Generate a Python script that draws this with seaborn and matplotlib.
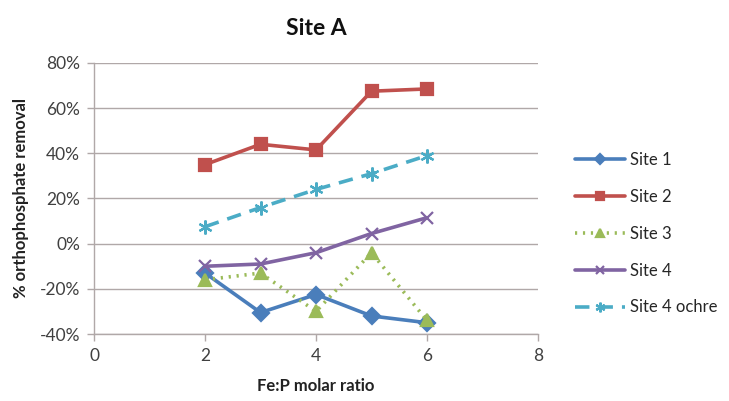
import matplotlib
matplotlib.use("Agg")
import matplotlib.pyplot as plt
import seaborn as sns
import pandas as pd
from matplotlib.ticker import FuncFormatter

ratio = [2, 3, 4, 5, 6]
site1 = [-13, -30.5, -22.5, -32, -35]
site2 = [35, 44, 41.5, 67.5, 68.5]
site3 = [-16, -13, -30, -4, -34]
site4 = [-10, -9, -4, 4.5, 11.5]
site4_ochre = [7.5, 16, 24, 31, 39]
series_names = ["Site 1", "Site 2", "Site 3", "Site 4", "Site 4 ochre"]
series_values = [site1, site2, site3, site4, site4_ochre]

sns.set_theme(style="white")
plt.rcParams['font.family'] = ['Lato', 'DejaVu Sans']

colors = {"Site 1": "#4A7EBB", "Site 2": "#C0504D", "Site 3": "#9BBB59",
          "Site 4": "#8064A2", "Site 4 ochre": "#4BACC6"}
markers = {"Site 1": "D", "Site 2": "s", "Site 3": "^", "Site 4": "x",
           "Site 4 ochre": (6, 2, 0)}
dashes = {"Site 1": "-", "Site 2": "-", "Site 3": (0, (0.6, 1.6)), "Site 4": "-",
          "Site 4 ochre": (0, (4, 2.5))}
msizes = {"Site 1": 8, "Site 2": 9, "Site 3": 9, "Site 4": 9, "Site 4 ochre": 10}

fig = plt.figure(figsize=(7.29, 4.01), dpi=100)
ax = fig.add_axes([0.129, 0.167, 0.609, 0.676])

for name, vals in zip(series_names, series_values):
    d = pd.DataFrame({"ratio": ratio, "removal": vals})
    sns.lineplot(data=d, x="ratio", y="removal", color=colors[name],
                 marker=markers[name], linestyle=dashes[name], linewidth=2.6,
                 markersize=msizes[name], markeredgewidth=1.6,
                 markeredgecolor=colors[name], ax=ax, label=name)

ax.set_xlim(0, 8)
ax.set_ylim(-40, 80)
ax.set_xticks([0, 2, 4, 6, 8])
ax.set_yticks(range(-40, 81, 20))
ax.yaxis.set_major_formatter(FuncFormatter(lambda v, p: f"{int(v)}%"))
ax.grid(axis="y", color="#B0A8A8", linewidth=1.0)
ax.set_axisbelow(True)
for s in ["top", "right"]:
    ax.spines[s].set_visible(False)
for s in ["left", "bottom"]:
    ax.spines[s].set_color("#B0A8A8")
    ax.spines[s].set_linewidth(1.0)
ax.tick_params(axis="both", which="major", length=5, width=1.0, color="#B0A8A8",
               labelsize=12.5, labelcolor="#404040", direction="out",
               left=True, bottom=True, pad=5)
ax.set_xlabel("Fe:P molar ratio", fontsize=12, fontweight="bold", color="#222222",
              labelpad=10)
ax.set_ylabel("% orthophosphate removal", fontsize=12, fontweight="bold",
              color="#222222", labelpad=8)
ax.set_title("Site A", fontsize=16.5, fontweight="bold", color="#111111", pad=20)

handles, labels = ax.get_legend_handles_labels()
leg = ax.legend(handles, labels, loc="center left", bbox_to_anchor=(1.068, 0.37),
                frameon=False, fontsize=12, handlelength=3.0, labelspacing=1.25,
                handletextpad=0.3, markerscale=0.7, borderaxespad=0)

fig.savefig("out.png", dpi=100, facecolor="white")
